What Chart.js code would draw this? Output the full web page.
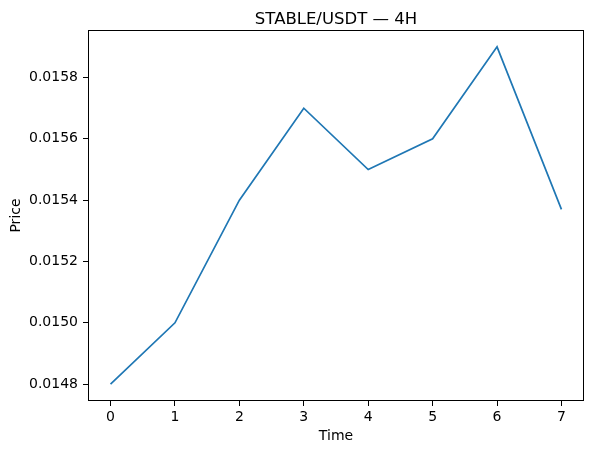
<!DOCTYPE html>
<html>
<head>
<meta charset="utf-8">
<script src="https://cdn.jsdelivr.net/npm/chart.js@4/dist/chart.umd.min.js"></script>
<style>
html,body{margin:0;padding:0;background:#fff;}
#wrap{width:593px;height:455px;position:relative;}
</style>
</head>
<body>
<div id="wrap"><canvas id="c" width="593" height="455"></canvas></div>
<script>
const chartTitle = 'STABLE/USDT — 4H';
const xLabel = 'Time';
const yLabel = 'Price';
const timeIdx = [0, 1, 2, 3, 4, 5, 6, 7];
const prices = [0.0148, 0.0150, 0.0154, 0.0157, 0.0155, 0.0156, 0.0159, 0.01537];
const xTicks = [0, 1, 2, 3, 4, 5, 6, 7];
const yTicks = [0.0148, 0.0150, 0.0152, 0.0154, 0.0156, 0.0158];

const FONT = 'DejaVu Sans';
Chart.defaults.font.family = FONT;
Chart.defaults.color = '#000';

const frame = {
  id: 'frame',
  afterDraw(chart) {
    const a = chart.chartArea, ctx = chart.ctx;
    ctx.save();
    ctx.strokeStyle = '#000';
    ctx.lineWidth = 1;
    ctx.strokeRect(Math.round(a.left) + 0.5, Math.round(a.top) + 0.5,
      Math.round(a.right - a.left) - 1, Math.round(a.bottom - a.top) - 1);
    ctx.fillStyle = '#000';
    ctx.font = '16.5px "' + FONT + '"';
    ctx.textAlign = 'center';
    ctx.textBaseline = 'alphabetic';
    ctx.fillText(chartTitle, (a.left + a.right) / 2, 23.5);
    ctx.restore();
  }
};

new Chart(document.getElementById('c'), {
  type: 'line',
  data: {
    datasets: [{
      data: timeIdx.map((t, i) => ({x: t, y: prices[i]})),
      borderColor: '#1f77b4',
      borderWidth: 1.7,
      pointRadius: 0,
      tension: 0,
      fill: false
    }]
  },
  options: {
    responsive: false,
    animation: false,
    devicePixelRatio: 1,
    layout: {padding: {left: 0, right: 9, top: 30, bottom: 0}},
    plugins: {
      legend: {display: false},
      tooltip: {enabled: false},
      title: {display: false}
    },
    scales: {
      x: {
        type: 'linear',
        min: -0.35,
        max: 7.35,
        afterBuildTicks(s) { s.ticks = xTicks.map(v => ({value: v})); },
        afterFit(s) { s.height = 54; },
        ticks: {
          font: {family: FONT, size: 14},
          color: '#000',
          padding: 3,
          maxRotation: 0,
          autoSkip: false,
          callback: v => String(v)
        },
        grid: {drawOnChartArea: false, drawTicks: true, tickLength: 5, tickColor: '#000', tickWidth: 1},
        border: {display: false},
        title: {
          display: true,
          text: xLabel,
          color: '#000',
          font: {family: FONT, size: 14},
          padding: {top: 0, bottom: 10}
        }
      },
      y: {
        type: 'linear',
        min: 0.014745,
        max: 0.015955,
        afterBuildTicks(s) { s.ticks = yTicks.map(v => ({value: v})); },
        afterFit(s) { s.width = 88; },
        ticks: {
          font: {family: FONT, size: 14},
          color: '#000',
          padding: 5,
          autoSkip: false,
          callback: v => v.toFixed(4)
        },
        grid: {drawOnChartArea: false, drawTicks: true, tickLength: 5, tickColor: '#000', tickWidth: 1},
        border: {display: false},
        title: {
          display: true,
          text: yLabel,
          color: '#000',
          font: {family: FONT, size: 14},
          padding: {top: 8, bottom: 0}
        }
      }
    }
  },
  plugins: [frame]
});
</script>
</body>
</html>
